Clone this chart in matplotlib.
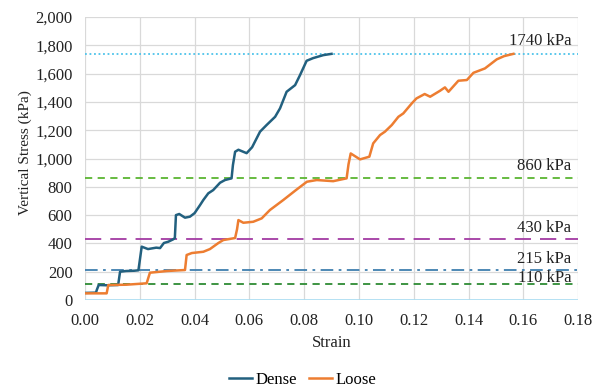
import numpy as np
import matplotlib
matplotlib.use("Agg")
import matplotlib.pyplot as plt
from matplotlib.ticker import FuncFormatter, MultipleLocator

plt.rcParams['font.family'] = ['Liberation Serif', 'DejaVu Serif']

# ---- data ----
dense_strain = [0.000, 0.0040, 0.0043, 0.0050, 0.0080, 0.0121, 0.0128, 0.0150, 0.0180, 0.0195,
                0.0207, 0.0230, 0.0260, 0.0274, 0.0288, 0.0304, 0.0322, 0.0328, 0.0332,
                0.0344, 0.0365, 0.0383, 0.0400, 0.0420, 0.0432, 0.0450, 0.0468,
                0.0493, 0.0511, 0.0535, 0.0540, 0.0548, 0.0560, 0.0575, 0.0590,
                0.0610, 0.0639, 0.0663, 0.0694, 0.0712, 0.0736, 0.0767, 0.0785,
                0.0809, 0.0833, 0.0870, 0.0900]
dense_stress = [50, 52, 71, 106, 104, 106, 200, 205, 207, 210,
                377, 360, 370, 367, 403, 412, 429, 438, 600,
                608, 582, 589, 614, 671, 707, 754, 777,
                829, 848, 860, 954, 1048, 1062, 1050, 1038,
                1080, 1190, 1237, 1295, 1355, 1472, 1519, 1590,
                1691, 1710, 1731, 1740]

loose_strain = [0.000, 0.0079, 0.0085, 0.0150, 0.0225, 0.0237, 0.0300, 0.0365, 0.0371, 0.0390,
                0.0432, 0.0456, 0.0487, 0.0505, 0.0548, 0.0555, 0.0560, 0.0578,
                0.0614, 0.0645, 0.0675, 0.0724, 0.0770, 0.0810, 0.0846, 0.0906, 0.0955,
                0.0962, 0.0970, 0.1004, 0.1038, 0.1052, 0.1077, 0.1095, 0.1120,
                0.1144, 0.1162, 0.1193, 0.1210, 0.1240, 0.1260, 0.1296, 0.1314,
                0.1327, 0.1363, 0.1394, 0.1418, 0.1460, 0.1503, 0.1530, 0.1564]
loose_stress = [47, 47, 106, 108, 118, 193, 205, 212, 318, 332,
                341, 360, 403, 424, 438, 500, 565, 546,
                553, 577, 636, 707, 777, 836, 848, 840, 860,
                960, 1036, 994, 1013, 1107, 1166, 1190, 1237,
                1295, 1319, 1390, 1425, 1456, 1437, 1479, 1503,
                1472, 1550, 1555, 1606, 1637, 1701, 1724, 1740]

ref_levels = [1740, 860, 430, 215, 110]
ref_labels = ['1740 kPa', '860 kPa', '430 kPa', '215 kPa', '110 kPa']
ref_colors = ['#4DC3EA', '#5BB531', '#A33AA3', '#3F7FAF', '#2E8B34']
ref_styles = [(0, (1, 1.5)), (0, (4, 3)), (0, (9, 5)), (0, (7, 3, 1.5, 3)), (0, (4, 3))]
label_offset = [90, 87, 79, 75, 45]   # kPa above the line, text centre

fig = plt.figure(figsize=(6.05, 3.88), dpi=100)
ax = fig.add_axes([0.1405, 0.2268, 0.815, 0.7292])

ax.grid(True, color='#D9D9D9', linewidth=0.9)
ax.set_axisbelow(True)
for s in ax.spines.values():
    s.set_visible(False)

for lev, lab, c, ls, off in zip(ref_levels, ref_labels, ref_colors, ref_styles, label_offset):
    ax.axhline(lev, color=c, linestyle=ls, linewidth=1.3, zorder=2)
    ax.text(0.1775, lev + off, lab, ha='right', va='center', fontsize=12,
            color='#222222')

ax.axhline(0, color='#A9DDF2', linewidth=1.2, zorder=2)

ax.plot(dense_strain, dense_stress, color='#22607F', linewidth=1.8, label='Dense', zorder=3)
ax.plot(loose_strain, loose_stress, color='#ED7D31', linewidth=1.8, label='Loose', zorder=3)

ax.set_xlim(0, 0.18)
ax.set_ylim(0, 2000)
ax.xaxis.set_major_locator(MultipleLocator(0.02))
ax.yaxis.set_major_locator(MultipleLocator(200))
ax.xaxis.set_major_formatter(FuncFormatter(lambda v, p: f'{v:.2f}'))
ax.yaxis.set_major_formatter(FuncFormatter(lambda v, p: f'{v:,.0f}'))
ax.tick_params(length=0, labelsize=12, colors='#222222')
ax.tick_params(axis='x', pad=9)
ax.tick_params(axis='y', pad=9)

ax.set_xlabel('Strain', fontsize=12, color='#222222', labelpad=5)
ax.set_ylabel('Vertical Stress (kPa)', fontsize=11, color='#222222', labelpad=8)
ax.yaxis.set_label_coords(-0.108, 0.52)

fig.legend(loc='center', bbox_to_anchor=(0.5, 1 - 380 / 388), ncol=2, frameon=False,
           fontsize=12, handlelength=1.4, handletextpad=0.2, columnspacing=0.7)

fig.savefig('out.png', dpi=100)
